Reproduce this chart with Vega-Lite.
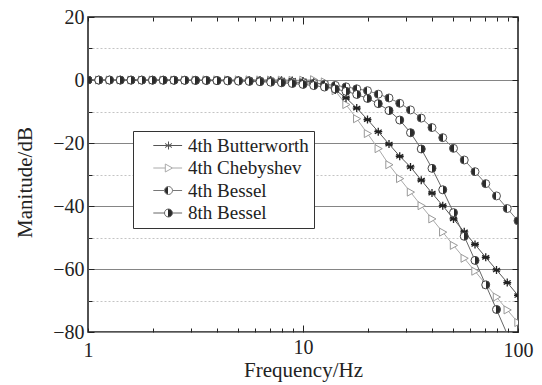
{
  "$schema": "https://vega.github.io/schema/vega-lite/v6.json",
  "width": 430,
  "height": 315,
  "autosize": {"type": "none"},
  "padding": {"left": 88, "top": 17, "right": 24, "bottom": 53},
  "background": "white",
  "config": {
    "view": {"stroke": "#1a1a1a", "strokeWidth": 1.5},
    "font": "Liberation Serif",
    "axis": {
      "labelFont": "Liberation Serif",
      "titleFont": "Liberation Serif",
      "labelFontSize": 20,
      "titleFontSize": 20,
      "titleFontWeight": "normal",
      "labelColor": "#222",
      "titleColor": "#222",
      "tickColor": "#222",
      "tickWidth": 1,
      "domain": false,
      "grid": false,
      "labelOverlap": false
    }
  },
  "data": {
    "values": [
      {"f": 1, "4th Butterworth": 0, "4th Chebyshev": 0, "4th Bessel": 0, "8th Bessel": -0.01},
      {"f": 1.122, "4th Butterworth": 0, "4th Chebyshev": 0, "4th Bessel": -0.01, "8th Bessel": -0.02},
      {"f": 1.259, "4th Butterworth": 0, "4th Chebyshev": 0, "4th Bessel": -0.01, "8th Bessel": -0.02},
      {"f": 1.413, "4th Butterworth": 0, "4th Chebyshev": 0, "4th Bessel": -0.02, "8th Bessel": -0.03},
      {"f": 1.585, "4th Butterworth": 0, "4th Chebyshev": 0, "4th Bessel": -0.02, "8th Bessel": -0.04},
      {"f": 1.778, "4th Butterworth": 0, "4th Chebyshev": 0, "4th Bessel": -0.03, "8th Bessel": -0.04},
      {"f": 1.995, "4th Butterworth": 0, "4th Chebyshev": 0, "4th Bessel": -0.03, "8th Bessel": -0.06},
      {"f": 2.239, "4th Butterworth": 0, "4th Chebyshev": 0, "4th Bessel": -0.04, "8th Bessel": -0.07},
      {"f": 2.512, "4th Butterworth": 0, "4th Chebyshev": 0, "4th Bessel": -0.05, "8th Bessel": -0.09},
      {"f": 2.818, "4th Butterworth": 0, "4th Chebyshev": 0, "4th Bessel": -0.06, "8th Bessel": -0.11},
      {"f": 3.162, "4th Butterworth": 0, "4th Chebyshev": 0, "4th Bessel": -0.08, "8th Bessel": -0.14},
      {"f": 3.548, "4th Butterworth": 0, "4th Chebyshev": 0.05, "4th Bessel": -0.1, "8th Bessel": -0.17},
      {"f": 3.981, "4th Butterworth": 0, "4th Chebyshev": 0.05, "4th Bessel": -0.13, "8th Bessel": -0.22},
      {"f": 4.467, "4th Butterworth": 0, "4th Chebyshev": 0.05, "4th Bessel": -0.17, "8th Bessel": -0.28},
      {"f": 5.012, "4th Butterworth": 0, "4th Chebyshev": 0.05, "4th Bessel": -0.21, "8th Bessel": -0.35},
      {"f": 5.623, "4th Butterworth": 0, "4th Chebyshev": 0.05, "4th Bessel": -0.27, "8th Bessel": -0.44},
      {"f": 6.31, "4th Butterworth": 0, "4th Chebyshev": 0.02, "4th Bessel": -0.33, "8th Bessel": -0.55},
      {"f": 7.079, "4th Butterworth": -0.02, "4th Chebyshev": 0, "4th Bessel": -0.42, "8th Bessel": -0.7},
      {"f": 7.943, "4th Butterworth": -0.05, "4th Chebyshev": -0.05, "4th Bessel": -0.52, "8th Bessel": -0.88},
      {"f": 8.913, "4th Butterworth": -0.12, "4th Chebyshev": -0.1, "4th Bessel": -0.67, "8th Bessel": -1.11},
      {"f": 10, "4th Butterworth": -0.28, "4th Chebyshev": -0.05, "4th Bessel": -0.84, "8th Bessel": -1.4},
      {"f": 11.22, "4th Butterworth": -0.68, "4th Chebyshev": 0.1, "4th Bessel": -1.07, "8th Bessel": -1.77},
      {"f": 12.59, "4th Butterworth": -1.55, "4th Chebyshev": -0.6, "4th Bessel": -1.34, "8th Bessel": -2.24},
      {"f": 14.13, "4th Butterworth": -3.17, "4th Chebyshev": -3.4, "4th Bessel": -1.72, "8th Bessel": -2.84},
      {"f": 15.85, "4th Butterworth": -5.68, "4th Chebyshev": -7.8, "4th Bessel": -2.18, "8th Bessel": -3.6},
      {"f": 17.78, "4th Butterworth": -8.91, "4th Chebyshev": -12.3, "4th Bessel": -2.8, "8th Bessel": -4.58},
      {"f": 19.95, "4th Butterworth": -12.56, "4th Chebyshev": -17.0, "4th Bessel": -3.4, "8th Bessel": -5.85},
      {"f": 22.39, "4th Butterworth": -16.41, "4th Chebyshev": -21.8, "4th Bessel": -4.5, "8th Bessel": -7.5},
      {"f": 25.12, "4th Butterworth": -20.35, "4th Chebyshev": -26.9, "4th Bessel": -5.7, "8th Bessel": -9.71},
      {"f": 28.18, "4th Butterworth": -24.2, "4th Chebyshev": -31.3, "4th Bessel": -7.4, "8th Bessel": -12.71},
      {"f": 31.62, "4th Butterworth": -27.6, "4th Chebyshev": -35.6, "4th Bessel": -9.5, "8th Bessel": -16.73},
      {"f": 35.48, "4th Butterworth": -31.8, "4th Chebyshev": -39.9, "4th Bessel": -12.1, "8th Bessel": -21.89},
      {"f": 39.81, "4th Butterworth": -35.9, "4th Chebyshev": -44.1, "4th Bessel": -15.1, "8th Bessel": -28.04},
      {"f": 44.67, "4th Butterworth": -39.9, "4th Chebyshev": -48.3, "4th Bessel": -18.3, "8th Bessel": -34.86},
      {"f": 50.12, "4th Butterworth": -44.1, "4th Chebyshev": -52.5, "4th Bessel": -21.7, "8th Bessel": -42.11},
      {"f": 56.23, "4th Butterworth": -48.2, "4th Chebyshev": -56.6, "4th Bessel": -25.4, "8th Bessel": -49.61},
      {"f": 63.1, "4th Butterworth": -52.2, "4th Chebyshev": -60.7, "4th Bessel": -29.1, "8th Bessel": -57.27},
      {"f": 70.79, "4th Butterworth": -56.3, "4th Chebyshev": -64.8, "4th Bessel": -32.9, "8th Bessel": -65.03},
      {"f": 79.43, "4th Butterworth": -60.3, "4th Chebyshev": -68.9, "4th Bessel": -36.8, "8th Bessel": -72.85},
      {"f": 89.13, "4th Butterworth": -64.3, "4th Chebyshev": -73.0, "4th Bessel": -40.8, "8th Bessel": -80.7},
      {"f": 100, "4th Butterworth": -68.4, "4th Chebyshev": -77.0, "4th Bessel": -44.7, "8th Bessel": -88.6}
    ]
  },
  "transform": [
    {"fold": ["4th Butterworth", "4th Chebyshev", "4th Bessel", "8th Bessel"], "as": ["s", "dB"]}
  ],
  "layer": [
    {
      "mark": {"type": "line", "strokeWidth": 1, "clip": true},
      "encoding": {
        "x": {
          "field": "f", "type": "quantitative",
          "scale": {"type": "log", "domain": [1, 100], "nice": false},
          "axis": {
            "orient": "bottom",
            "values": [1, 2, 3, 4, 5, 6, 7, 8, 9, 10, 20, 30, 40, 50, 60, 70, 80, 90, 100],
            "labelExpr": "datum.value == 1 || datum.value == 10 || datum.value == 100 ? format(datum.value, 'd') : ''",
            "tickSize": {"condition": {"test": "datum.value == 10", "value": -7}, "value": -4},
            "labelPadding": 12,
            "labelFlush": false,
            "title": "Frequency/Hz",
            "titleFontSize": 21,
            "titlePadding": -1
          }
        },
        "y": {
          "field": "dB", "type": "quantitative",
          "scale": {"domain": [-80, 20], "nice": false},
          "axis": {
            "orient": "left",
            "values": [20, 10, 0, -10, -20, -30, -40, -50, -60, -70, -80],
            "labelExpr": "datum.value % 20 == 0 ? datum.label : ''",
            "grid": true,
            "gridColor": {"condition": {"test": "datum.value % 20 == 0", "value": "#858585"}, "value": "#c4c4c4"},
            "gridDash": {"condition": {"test": "datum.value % 20 == 0", "value": []}, "value": [2, 2]},
            "gridWidth": 1,
            "tickSize": {"condition": {"test": "datum.value % 20 == 0", "value": -6}, "value": -4},
            "labelPadding": 10,
            "title": "Manitude/dB",
            "titleFontSize": 21,
            "titlePadding": 17,
            "titleY": 165
          }
        },
        "color": {
          "field": "s", "type": "nominal",
          "scale": {
            "domain": ["4th Butterworth", "4th Chebyshev", "4th Bessel", "8th Bessel"],
            "range": ["#555555", "#aaaaaa", "#777777", "#666666"]
          },
          "legend": {
            "orient": "none",
            "legendX": 45,
            "legendY": 114,
            "title": null,
            "fillColor": "#ffffff",
            "strokeColor": "#333333",
            "padding": 5,
            "labelFont": "Liberation Serif",
            "labelFontSize": 19,
            "labelColor": "#222",
            "symbolSize": 64,
            "symbolStrokeWidth": 1,
            "symbolOffset": 21,
            "labelOffset": 10,
            "rowPadding": 2.5,
            "labelLimit": 300,
            "encode": {
              "symbols": {
                "update": {
                  "shape": {"signal": "datum.value == '4th Butterworth' ? 'M-3.8,0L3.4,0M0,-1L0,1M-0.87,-0.5L0.87,0.5M-0.87,0.5L0.87,-0.5' : datum.value == '4th Chebyshev' ? 'M-3.8,0L-0.8,0M1,0L3.4,0M-0.8,-1L1,0L-0.8,1Z' : 'M-3.8,0L-1,0M1,0L3.4,0M1,0A1,1 0 1,1 -1,0A1,1 0 1,1 1,0Z'"},
                  "fill": [
                    {"test": "datum.value == '4th Bessel'", "value": {"gradient": "linear", "x1": 0, "y1": 0, "x2": 1, "y2": 0, "stops": [{"offset": 0, "color": "#2b2b2b"}, {"offset": 0.5, "color": "#2b2b2b"}, {"offset": 0.5, "color": "#ffffff"}, {"offset": 1, "color": "#ffffff"}]}},
                    {"test": "datum.value == '8th Bessel'", "value": {"gradient": "linear", "x1": 0, "y1": 0, "x2": 1, "y2": 0, "stops": [{"offset": 0, "color": "#ffffff"}, {"offset": 0.5, "color": "#ffffff"}, {"offset": 0.5, "color": "#2b2b2b"}, {"offset": 1, "color": "#2b2b2b"}]}},
                    {"value": "#ffffff"}
                  ],
                  "opacity": {"value": 1}
                }
              }
            }
          }
        }
      }
    },
    {
      "transform": [{"filter": "datum.s == '4th Chebyshev'"}],
      "mark": {"type": "point", "shape": "M-0.8,-1L1,0L-0.8,1Z", "size": 64, "filled": true, "fill": "#ffffff", "stroke": "#999999", "strokeWidth": 1, "opacity": 1, "clip": true},
      "encoding": {
        "x": {
          "field": "f", "type": "quantitative",
          "axis": {
            "orient": "top",
            "values": [1, 2, 3, 4, 5, 6, 7, 8, 9, 10, 20, 30, 40, 50, 60, 70, 80, 90, 100],
            "labels": false,
            "tickSize": {"condition": {"test": "datum.value == 10", "value": -7}, "value": -4},
            "title": null
          }
        },
        "y": {
          "field": "dB", "type": "quantitative",
          "axis": {
            "orient": "right",
            "values": [20, 10, 0, -10, -20, -30, -40, -50, -60, -70, -80],
            "labels": false,
            "tickSize": {"condition": {"test": "datum.value % 20 == 0", "value": -6}, "value": -4},
            "title": null
          }
        }
      }
    },
    {
      "transform": [{"filter": "datum.s == '4th Butterworth'"}],
      "mark": {"type": "point", "shape": "M0,-1L0,1M-0.87,-0.5L0.87,0.5M-0.87,0.5L0.87,-0.5M-1,0L1,0", "size": 64, "filled": false, "stroke": "#222222", "strokeWidth": 1.3, "opacity": 1, "clip": true},
      "encoding": {
        "x": {"field": "f", "type": "quantitative", "axis": null},
        "y": {"field": "dB", "type": "quantitative", "axis": null}
      }
    },
    {
      "transform": [{"filter": "datum.s == '4th Bessel'"}],
      "mark": {"type": "point", "shape": "circle", "size": 64, "filled": true, "fill": {"gradient": "linear", "x1": 0, "y1": 0, "x2": 1, "y2": 0, "stops": [{"offset": 0, "color": "#2b2b2b"}, {"offset": 0.5, "color": "#2b2b2b"}, {"offset": 0.5, "color": "#ffffff"}, {"offset": 1, "color": "#ffffff"}]}, "stroke": "#555555", "strokeWidth": 1, "opacity": 1, "clip": true},
      "encoding": {
        "x": {"field": "f", "type": "quantitative", "axis": null},
        "y": {"field": "dB", "type": "quantitative", "axis": null}
      }
    },
    {
      "transform": [{"filter": "datum.s == '8th Bessel' && datum.dB >= -80"}],
      "mark": {"type": "point", "shape": "circle", "size": 64, "filled": true, "fill": {"gradient": "linear", "x1": 0, "y1": 0, "x2": 1, "y2": 0, "stops": [{"offset": 0, "color": "#ffffff"}, {"offset": 0.5, "color": "#ffffff"}, {"offset": 0.5, "color": "#2b2b2b"}, {"offset": 1, "color": "#2b2b2b"}]}, "stroke": "#444444", "strokeWidth": 1, "opacity": 1, "clip": true},
      "encoding": {
        "x": {"field": "f", "type": "quantitative", "axis": null},
        "y": {"field": "dB", "type": "quantitative", "axis": null}
      }
    }
  ],
  "resolve": {"axis": {"x": "independent", "y": "independent"}}
}
